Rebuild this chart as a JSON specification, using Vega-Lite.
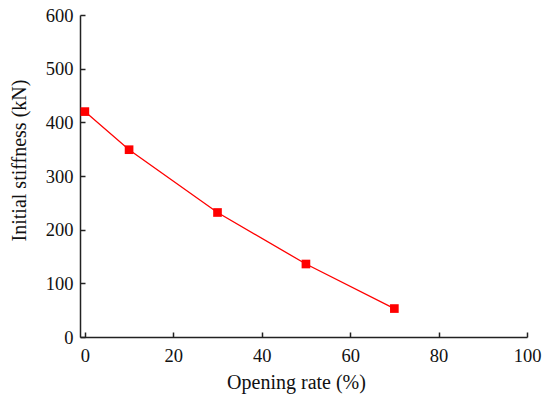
{
  "$schema": "https://vega.github.io/schema/vega-lite/v6.json",
  "autosize": {"type": "none"},
  "padding": {"left": 80, "top": 15, "right": 23, "bottom": 62},
  "width": 447,
  "height": 322,
  "background": "white",
  "config": {
    "view": {"stroke": null},
    "font": "Liberation Serif",
    "axis": {
      "grid": false,
      "domainColor": "#222",
      "domainWidth": 1.5,
      "tickColor": "#222",
      "tickWidth": 1.5,
      "tickSize": -5,
      "labelFont": "Liberation Serif",
      "labelFontSize": 18.5,
      "labelColor": "#111",
      "labelFlush": false,
      "titleFont": "Liberation Serif",
      "titleFontSize": 20,
      "titleFontWeight": "normal",
      "titleColor": "#111"
    }
  },
  "data": {
    "values": [
      {"rate": 0, "stiffness": 420},
      {"rate": 10, "stiffness": 349},
      {"rate": 30, "stiffness": 232},
      {"rate": 50, "stiffness": 136},
      {"rate": 70, "stiffness": 53}
    ]
  },
  "encoding": {
    "x": {
      "field": "rate",
      "type": "quantitative",
      "scale": {"domain": [-1.1, 100], "nice": false, "zero": false},
      "axis": {"title": "Opening rate (%)", "values": [0, 20, 40, 60, 80, 100], "labelPadding": 14, "titleX": 216, "titleY": 45, "titleBaseline": "middle"}
    },
    "y": {
      "field": "stiffness",
      "type": "quantitative",
      "scale": {"domain": [0, 600], "nice": false},
      "axis": {"title": "Initial stiffness (kN)", "values": [0, 100, 200, 300, 400, 500, 600], "labelPadding": 12, "titleX": -61, "titleY": 145, "titleBaseline": "middle"}
    }
  },
  "layer": [
    {"mark": {"type": "line", "color": "#ff0000", "strokeWidth": 1.3}},
    {"mark": {"type": "square", "color": "#ff0000", "opacity": 1, "filled": true, "size": 75}}
  ]
}
